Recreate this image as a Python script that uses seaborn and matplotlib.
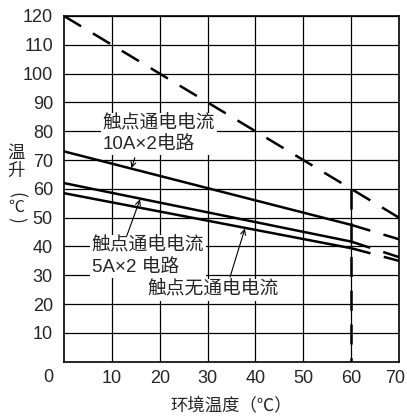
import seaborn as sns
import matplotlib.pyplot as plt
import matplotlib.transforms as mtransforms

# 数据
temp_solid = [0, 60]
temp_tail = [60, 70]
rise_10a = [73, 47.5]
rise_10a_tail = [47.5, 42.5]
rise_5a = [62, 41.7]
rise_5a_tail = [41.7, 36.3]
rise_none = [58.5, 39.4]
rise_none_tail = [39.4, 35]
limit_temp = [0, 60, 70]
limit_rise = [120, 60, 50]
cutoff_temp = [60, 60]
cutoff_rise = [60, 0]

x_ticks = [10, 20, 30, 40, 50, 60, 70]
y_ticks = [10, 20, 30, 40, 50, 60, 70, 80, 90, 100, 110, 120]

sns.set_style("white")
plt.rcParams['font.family'] = ['Liberation Sans', 'Noto Sans CJK SC']

fig = plt.figure(figsize=(4.07, 4.18), dpi=100)
ax = fig.add_axes([64 / 407, 1 - 361.7 / 418, 335 / 407, 345.7 / 418])

dash = (0, (8, 5.5))
solid_kw = dict(color='black', linewidth=1.8, ax=ax, zorder=4)
dash_kw = dict(color='black', linewidth=1.8, ax=ax, zorder=4, linestyle=dash)

sns.lineplot(x=temp_solid, y=rise_10a, **solid_kw)
sns.lineplot(x=temp_solid, y=rise_5a, **solid_kw)
sns.lineplot(x=temp_solid, y=rise_none, **solid_kw)
sns.lineplot(x=temp_tail, y=rise_10a_tail, **dash_kw)
sns.lineplot(x=temp_tail, y=rise_5a_tail, **dash_kw)
sns.lineplot(x=temp_tail, y=rise_none_tail, **dash_kw)
sns.lineplot(x=limit_temp, y=limit_rise, sort=False, **dash_kw)
sns.lineplot(x=cutoff_temp, y=cutoff_rise, sort=False, estimator=None, **dash_kw)

ax.set_xlim(0, 70)
ax.set_ylim(0, 120)
ax.set_xticks(x_ticks)
ax.set_yticks(y_ticks)
ax.tick_params(length=0, labelsize=13)
ax.tick_params(axis='x', pad=6)
ax.tick_params(axis='y', pad=8)
ax.grid(True, color='black', linewidth=0.9)
ax.set_axisbelow(True)
for sp in ax.spines.values():
    sp.set_color('black')
    sp.set_linewidth(1.2)

# 最右刻度标签稍向左移，避免贴边被裁
last = ax.get_xticklabels()[-1]
last.set_transform(last.get_transform() +
                   mtransforms.ScaledTranslation(-4 / 100, 0, fig.dpi_scale_trans))

ax.set_xlabel('环境温度（℃）', fontsize=12.5, labelpad=7)
ax.set_ylabel('')

# 标注
box = dict(facecolor='white', edgecolor='none', pad=1.5)
ax.text(8.1, 79.1, '触点通电电流\n10A×2电路', fontsize=13.5, ha='left', va='center',
        linespacing=1.3, bbox=box, zorder=3)
ax.text(5.8, 36.5, '触点通电电流\n5A×2 电路', fontsize=13.5, ha='left', va='center',
        linespacing=1.3, bbox=box, zorder=3)
ax.text(17.5, 24.9, '触点无通电电流', fontsize=13.5, ha='left', va='center',
        bbox=box, zorder=3)

arrow = dict(arrowstyle='->', color='black', lw=0.8, shrinkA=0, shrinkB=0,
             mutation_scale=9)
ax.annotate('', xy=(14.1, 67.2), xytext=(14.8, 70.8), arrowprops=arrow, zorder=5)
ax.annotate('', xy=(15.9, 56.4), xytext=(13.1, 43.6), arrowprops=arrow, zorder=5)
ax.annotate('', xy=(37.8, 46.2), xytext=(34.7, 29.4), arrowprops=arrow, zorder=5)

# 纵轴标题（竖排）与原点
cjk = ['Noto Sans CJK SC']
fig.text(16 / 407, 1 - 153 / 418, '温', fontsize=12.5, family=cjk, ha='center', va='center')
fig.text(16 / 407, 1 - 171 / 418, '升', fontsize=12.5, family=cjk, ha='center', va='center')
fig.text(16 / 407, 1 - 195 / 418, '(', fontsize=12.5, family=cjk, ha='center', va='center',
         rotation=270)
fig.text(16 / 407, 1 - 207 / 418, '℃', fontsize=11.5, family=cjk, ha='center', va='center')
fig.text(16 / 407, 1 - 220 / 418, ')', fontsize=12.5, family=cjk, ha='center', va='center',
         rotation=270)
fig.text(48 / 407, 1 - 378 / 418, '0', fontsize=13, ha='center', va='center')

plt.savefig('out.png', dpi=100)
plt.close()
